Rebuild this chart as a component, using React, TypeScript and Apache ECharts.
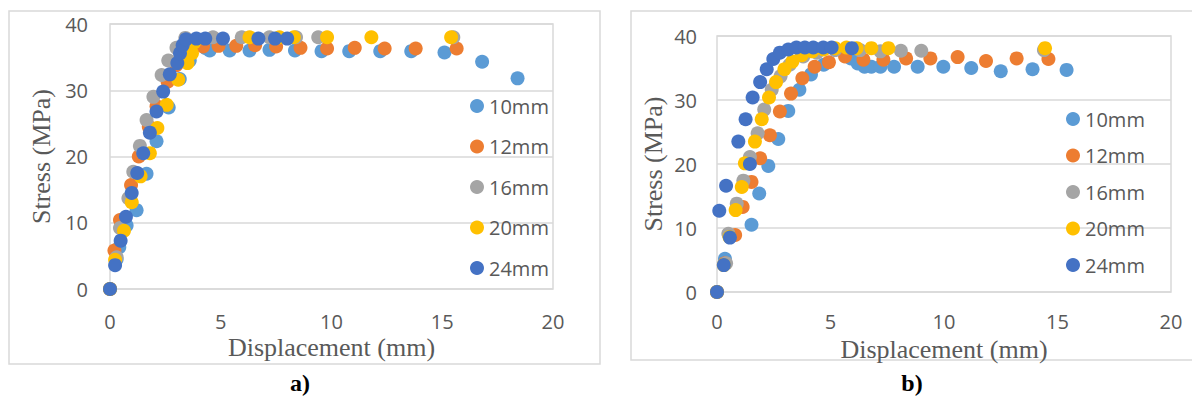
import React, { useEffect, useRef } from "react";
import * as echarts from "echarts";

const seriesNames = ["10mm", "12mm", "16mm", "20mm", "24mm"];
const seriesColors = ["#5B9BD5", "#ED7D31", "#A5A5A5", "#FFC000", "#4472C4"];
const xTicks = [0, 5, 10, 15, 20];
const yTicks = [0, 10, 20, 30, 40];
const panelLabels = ["a)", "b)"];
const xTitle = "Displacement (mm)";
const yTitle = "Stress (MPa)";

// Panel a) data [displacement mm, stress MPa]
const a10 = [[0, 0], [0.3, 4.5], [0.42, 6.3], [0.75, 9.6], [1.2, 11.9], [1.65, 17.4], [2.1, 22.3], [2.65, 27.4], [3.15, 31.7], [3.6, 34.5], [4.3, 36.4], [4.5, 36.0], [5.4, 36.0], [6.3, 36.0], [7.2, 36.1], [8.35, 36.0], [9.55, 35.9], [10.8, 35.9], [12.2, 35.9], [13.6, 35.9], [15.1, 35.7], [16.8, 34.3], [18.4, 31.8]];
const a12 = [[0, 0], [0.2, 5.8], [0.45, 10.4], [0.95, 15.7], [1.3, 20.0], [1.75, 24.5], [2.1, 27.6], [2.6, 31.3], [3.0, 33.8], [3.4, 35.8], [3.9, 36.8], [4.2, 36.6], [4.9, 36.7], [5.7, 36.7], [6.55, 36.8], [7.5, 36.6], [8.6, 36.4], [9.8, 36.3], [11.05, 36.4], [12.4, 36.3], [13.8, 36.3], [15.65, 36.3]];
const a16 = [[0, 0], [0.3, 4.8], [0.45, 9.2], [0.83, 13.7], [1.05, 17.7], [1.35, 21.6], [1.65, 25.5], [1.96, 29.0], [2.33, 32.3], [2.63, 34.5], [3.0, 36.4], [3.4, 37.9], [4.65, 38.0], [5.95, 38.0], [7.2, 38.0], [8.4, 38.0], [9.4, 38.0], [15.5, 38.0]];
const a20 = [[0, 0], [0.23, 4.4], [0.63, 8.8], [0.98, 13.1], [1.38, 17.0], [1.8, 20.5], [2.14, 24.3], [2.56, 27.8], [3.08, 31.6], [3.5, 34.1], [3.7, 35.6], [3.8, 37.2], [6.3, 38.0], [7.65, 38.0], [8.3, 38.0], [9.8, 38.0], [11.8, 38.0], [15.4, 38.0]];
const a24 = [[0, 0], [0.23, 3.6], [0.48, 7.3], [0.72, 10.9], [0.98, 14.5], [1.23, 17.5], [1.5, 20.5], [1.8, 23.6], [2.1, 26.8], [2.4, 29.8], [2.7, 32.4], [3.04, 34.1], [3.16, 35.6], [3.28, 36.8], [3.43, 37.7], [3.9, 37.8], [4.3, 37.8], [5.1, 37.8], [6.7, 37.8], [7.45, 37.8], [8.0, 37.8]];

// Panel b) data
const b10 = [[0, 0], [0.35, 5.2], [1.52, 10.5], [1.86, 15.4], [2.26, 19.7], [2.7, 23.9], [3.14, 28.3], [3.63, 31.6], [4.14, 34.0], [4.7, 35.5], [5.9, 36.5], [6.2, 35.7], [6.5, 35.2], [6.8, 35.2], [7.2, 35.2], [7.8, 35.2], [8.84, 35.2], [9.97, 35.2], [11.2, 35.0], [12.5, 34.5], [13.9, 34.8], [15.4, 34.7]];
const b12 = [[0, 0], [0.35, 4.5], [0.8, 8.9], [1.13, 13.3], [1.52, 17.2], [1.9, 20.9], [2.33, 24.5], [2.77, 28.2], [3.26, 31.0], [3.76, 33.4], [4.3, 35.2], [4.93, 35.9], [5.64, 36.8], [6.45, 36.3], [7.33, 36.3], [8.33, 36.5], [9.4, 36.5], [10.6, 36.7], [11.85, 36.1], [13.2, 36.5], [14.6, 36.4]];
const b16 = [[0, 0], [0.4, 4.5], [0.5, 9.1], [0.87, 13.8], [1.16, 17.4], [1.45, 21.1], [1.79, 24.8], [2.08, 28.5], [2.41, 31.6], [2.8, 33.7], [3.2, 35.5], [3.8, 36.8], [4.4, 37.4], [5.2, 37.8], [6.3, 37.8], [7.2, 37.6], [8.1, 37.7], [9.0, 37.7], [14.4, 37.8]];
const b20 = [[0, 0], [0.3, 4.2], [0.55, 8.6], [0.82, 12.8], [1.09, 16.4], [1.23, 20.1], [1.67, 23.5], [1.97, 27.0], [2.29, 30.4], [2.6, 32.8], [2.97, 34.8], [3.32, 36.0], [3.73, 37.0], [4.2, 37.6], [4.7, 37.9], [5.2, 38.1], [5.7, 38.2], [6.15, 38.1], [6.8, 38.1], [7.55, 38.1], [14.45, 38.1]];
const b24 = [[0, 0], [0.3, 4.2], [0.57, 8.5], [0.1, 12.7], [0.4, 16.6], [1.45, 20.0], [0.94, 23.5], [1.26, 27.0], [1.57, 30.4], [1.9, 32.8], [2.19, 34.8], [2.48, 36.4], [2.77, 37.4], [3.14, 37.9], [3.5, 38.2], [3.87, 38.2], [4.24, 38.2], [4.68, 38.2], [5.05, 38.2], [5.94, 38.1]];

const panelA = [a10, a12, a16, a20, a24];
const panelB = [b10, b12, b16, b20, b24];

const GRAY = "#595959";
const LINE = "#D9D9D9";

function buildOption() {
  const grids = [
    { left: 110, top: 24, width: 443, height: 265 },
    { left: 717, top: 36, width: 454, height: 256 },
  ];
  const xAxis = grids.map((_, i) => ({
    gridIndex: i,
    type: "value",
    min: xTicks[0],
    max: xTicks[xTicks.length - 1],
    interval: xTicks[1] - xTicks[0],
    axisLine: { show: false },
    axisTick: { show: false },
    splitLine: { show: false },
    axisLabel: { color: GRAY, fontSize: 20, lineHeight: 20, fontFamily: "Open Sans", margin: i === 0 ? 22 : 19 },
    name: xTitle,
    nameLocation: "middle",
    nameMoveOverlap: false,
    nameGap: i === 0 ? 46 : 45,
    nameTextStyle: { fontFamily: "Liberation Serif", fontSize: 26, lineHeight: 24, color: GRAY },
  }));
  const yAxis = grids.map((_, i) => ({
    gridIndex: i,
    type: "value",
    min: yTicks[0],
    max: yTicks[yTicks.length - 1],
    interval: yTicks[1] - yTicks[0],
    axisLine: { show: false },
    axisTick: { show: false },
    splitLine: { show: true, lineStyle: { color: LINE, width: 1.5 } },
    axisLabel: { color: GRAY, fontSize: 20, fontFamily: "Open Sans", margin: i === 0 ? 22 : 20 },
    name: yTitle,
    nameLocation: "middle",
    nameGap: i === 0 ? 56 : 51,
    nameTextStyle: { fontFamily: "Liberation Serif", fontSize: 26, color: GRAY },
  }));
  const series: any[] = [];
  [panelA, panelB].forEach((panel, pi) => {
    panel.forEach((data, si) => {
      series.push({
        type: "scatter",
        name: seriesNames[si],
        xAxisIndex: pi,
        yAxisIndex: pi,
        data,
        symbol: "circle",
        symbolSize: 14,
        itemStyle: { color: seriesColors[si], opacity: 1 },
        emphasis: { disabled: true },
      });
    });
  });
  const legendCommon = {
    orient: "vertical",
    icon: "circle",
    itemWidth: 14,
    itemHeight: 14,
    data: seriesNames,
    textStyle: { fontSize: 20, color: GRAY, fontFamily: "Open Sans" },
    selectedMode: false,
  };
  return {
    animation: false,
    backgroundColor: "#ffffff",
    color: seriesColors,
    grid: grids.map((g) => ({ ...g, show: true, borderColor: LINE, borderWidth: 1.5, backgroundColor: "transparent" })),
    xAxis,
    yAxis,
    series,
    legend: [
      { ...legendCommon, left: 465, top: 91, itemGap: 20.5 },
      { ...legendCommon, left: 1061, top: 104, itemGap: 16.5 },
    ],
    graphic: [
      { type: "rect", shape: { x: 9, y: 11, width: 591, height: 353 }, style: { fill: "none", stroke: LINE, lineWidth: 1.5 }, silent: true },
      { type: "rect", shape: { x: 631, y: 11, width: 580, height: 349 }, style: { fill: "none", stroke: LINE, lineWidth: 1.5 }, silent: true },
      { type: "text", x: 300, y: 383, style: { text: panelLabels[0], fontFamily: "Liberation Serif", fontWeight: "bold", fontSize: 24, fill: "#000", textAlign: "center", textVerticalAlign: "middle" } },
      { type: "text", x: 912, y: 383, style: { text: panelLabels[1], fontFamily: "Liberation Serif", fontWeight: "bold", fontSize: 24, fill: "#000", textAlign: "center", textVerticalAlign: "middle" } },
    ],
  };
}

export default function App() {
  const ref = useRef<HTMLDivElement>(null);
  useEffect(() => {
    if (!ref.current) return;
    const chart = echarts.init(ref.current, undefined, { renderer: "svg" });
    chart.setOption(buildOption() as any);
    return () => chart.dispose();
  }, []);
  return (
    <div
      ref={ref}
      style={{ position: "absolute", left: 0, top: 0, width: 1192, height: 399, background: "#fff" }}
    />
  );
}
